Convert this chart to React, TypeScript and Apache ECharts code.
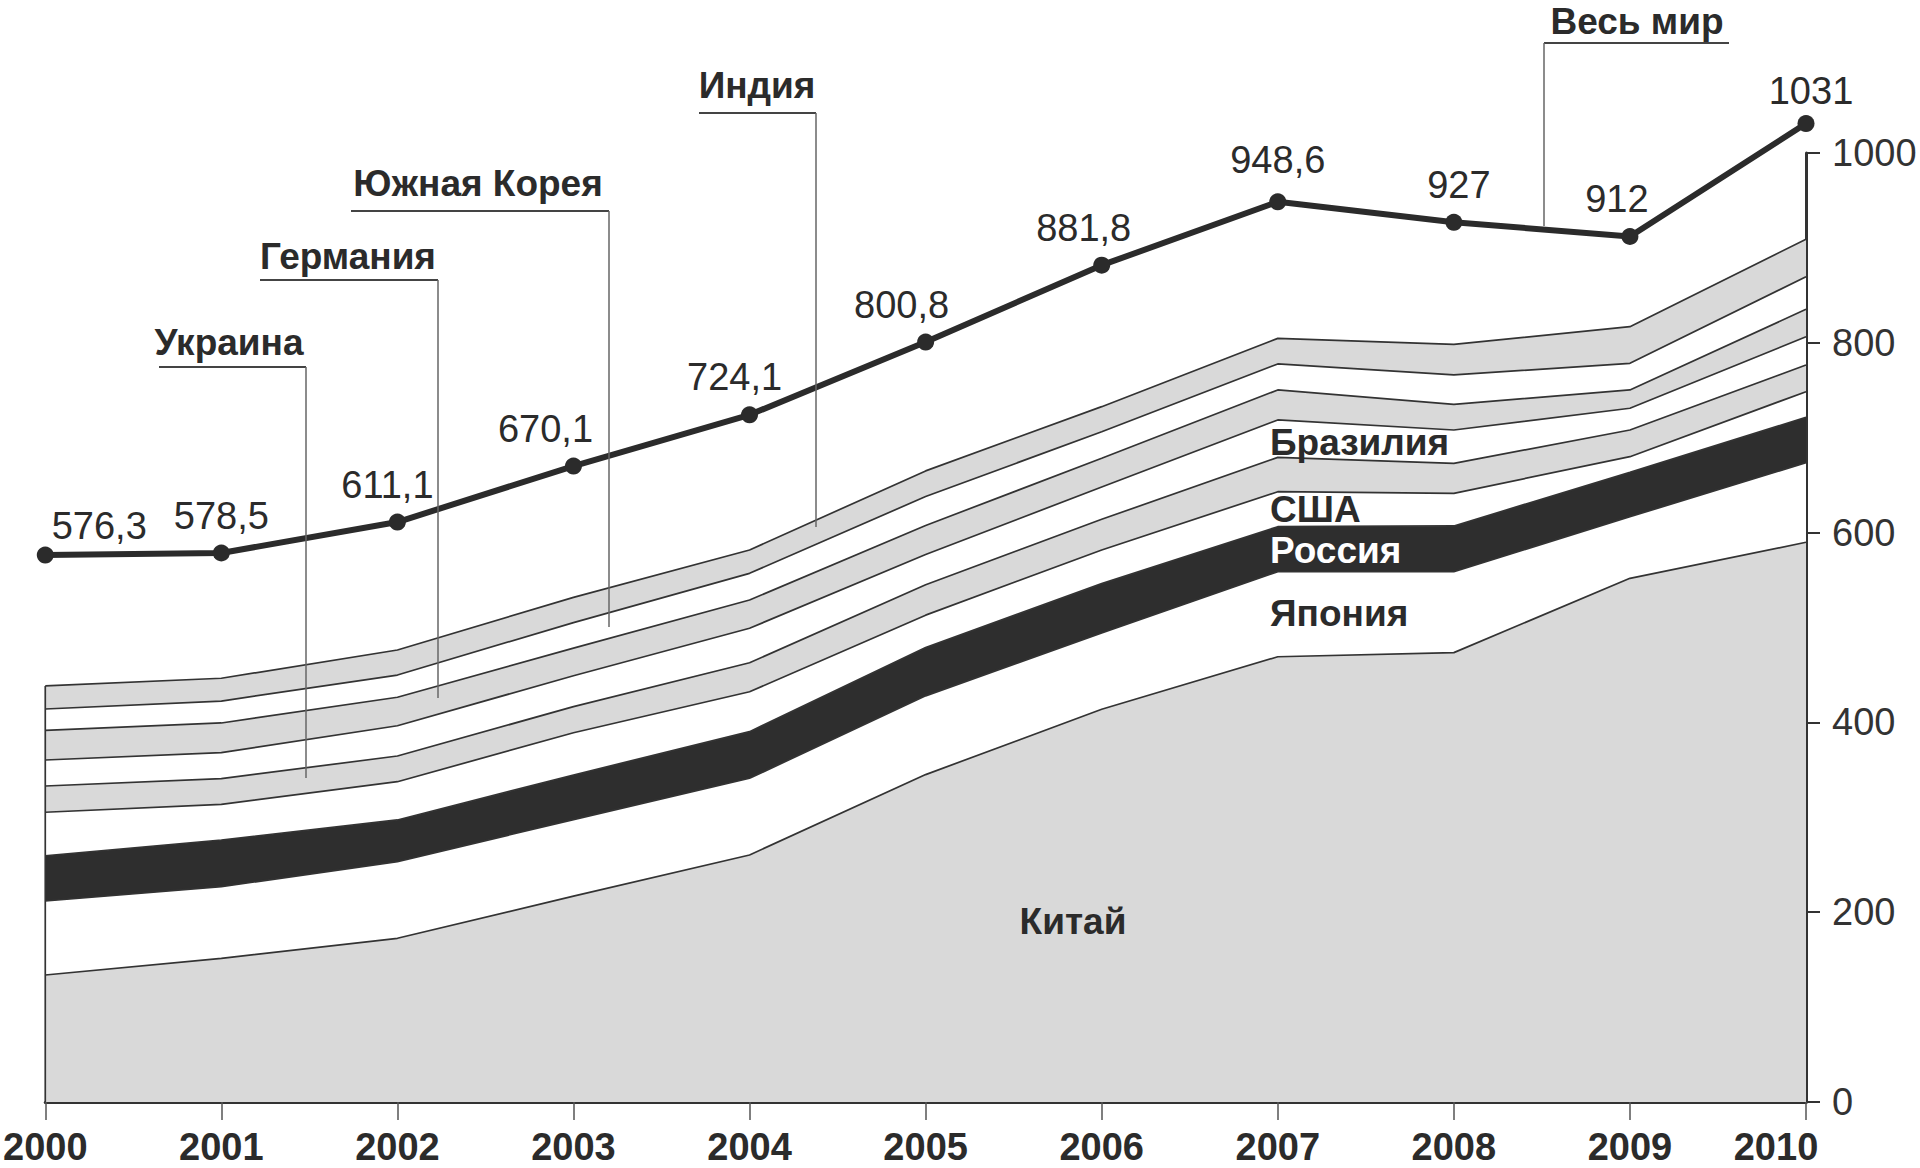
import React, { useEffect, useRef } from 'react';
import * as echarts from 'echarts';

const FONT = '"Liberation Sans", Arial, Helvetica, sans-serif';
const GRAY = '#d9d9d9';
const WHITE = '#ffffff';
const BLACK = '#2e2e2e';
const INK = '#2b2b2b';

const years = ['2000', '2001', '2002', '2003', '2004', '2005', '2006', '2007', '2008', '2009', '2010'];

// Stacked layers, bottom to top
const china = [133.8, 151.4, 172.5, 216.9, 260.3, 345.0, 413.8, 469.2, 473.5, 551.8, 589.8];
const japan = [78.0, 75.5, 80.7, 80.7, 80.8, 83.0, 80.4, 89.6, 85.3, 64.9, 83.9];
const russia = [47.7, 49.2, 44.0, 47.0, 49.1, 51.0, 52.0, 47.4, 48.2, 46.8, 47.8];
const usa = [45.8, 37.6, 40.3, 44.5, 42.1, 34.0, 35.5, 36.9, 34.4, 16.5, 27.0];
const ukraine = [27.7, 27.0, 27.1, 27.5, 30.6, 32.0, 32.3, 36.2, 31.6, 28.1, 28.1];
const brazil = [27.4, 27.4, 31.9, 32.6, 36.3, 32.0, 34.0, 39.4, 35.1, 22.9, 29.8];
const germany = [31.3, 31.3, 30.0, 29.1, 29.8, 30.5, 30.3, 31.6, 27.1, 19.3, 28.9];
const korea = [22.4, 23.1, 23.4, 26.9, 28.1, 30.5, 28.0, 27.4, 30.9, 28.1, 34.4];
const india = [24.3, 24.0, 26.4, 26.6, 24.6, 27.0, 26.4, 27.0, 32.3, 38.6, 39.4];

// World total (line)
const world = [576.3, 578.5, 611.1, 670.1, 724.1, 800.8, 881.8, 948.6, 927, 912, 1031];

// Y axis ticks
const yMin = 0;
const yMax = 1000;
const yInterval = 200;

const layers = [
  { name: 'Китай', data: china, color: GRAY },
  { name: 'Япония', data: japan, color: WHITE },
  { name: 'Россия', data: russia, color: BLACK },
  { name: 'США', data: usa, color: WHITE },
  { name: 'Украина', data: ukraine, color: GRAY },
  { name: 'Бразилия', data: brazil, color: WHITE },
  { name: 'Германия', data: germany, color: GRAY },
  { name: 'Южная Корея', data: korea, color: WHITE },
  { name: 'Индия', data: india, color: GRAY },
];

// style: label nudges for world line values (px)
const worldLabelOffsets: [number, number][] = [
  [54, 8], [0, 0], [-10, 0], [-28, 0], [-15, 0], [-24, 0], [-18, 0], [0, -4], [5, 0], [-13, 0], [5, 5],
];

// style: callout annotations (pixel layout)
const callouts = [
  { text: 'Украина', tx: 229, ty: 342, ux1: 159, ux2: 306, uy: 367, vx: 306, vy2: 778 },
  { text: 'Германия', tx: 348, ty: 256, ux1: 260, ux2: 438, uy: 280, vx: 438, vy2: 698 },
  { text: 'Южная Корея', tx: 478, ty: 183, ux1: 351, ux2: 609, uy: 211, vx: 609, vy2: 627 },
  { text: 'Индия', tx: 757, ty: 85, ux1: 699, ux2: 816, uy: 113, vx: 816, vy2: 527 },
  { text: 'Весь мир', tx: 1637, ty: 21, ux1: 1544, ux2: 1729, uy: 43, vx: 1544, vy2: 226 },
];

const inlineLabels = [
  { text: 'Бразилия', x: 1270, y: 442, fill: INK, align: 'left' },
  { text: 'США', x: 1270, y: 509, fill: INK, align: 'left' },
  { text: 'Россия', x: 1270, y: 550, fill: '#ffffff', align: 'left' },
  { text: 'Япония', x: 1270, y: 613, fill: INK, align: 'left' },
  { text: 'Китай', x: 1073, y: 921, fill: INK, align: 'center' },
];

const fmt = (v: number) => String(v).replace('.', ',');

export default function App() {
  const ref = useRef<HTMLDivElement>(null);

  useEffect(() => {
    if (!ref.current) return;
    const chart = echarts.init(ref.current, undefined, { renderer: 'svg' });

    const stackSeries = layers.map((l) => ({
      name: l.name,
      type: 'line',
      stack: 'total',
      data: l.data,
      symbol: 'none',
      lineStyle: { width: 1.7, color: '#333' },
      areaStyle: { color: l.color, opacity: 1 },
      z: 2,
    }));

    const totals0 = layers.reduce((s, l) => s + l.data[0], 0);

    const graphics: any[] = [];
    callouts.forEach((c) => {
      graphics.push({
        type: 'text',
        z: 100,
        x: c.tx,
        y: c.ty,
        style: {
          text: c.text,
          fontSize: 37,
          fontWeight: 'bold',
          fontFamily: FONT,
          fill: INK,
          align: 'center',
          verticalAlign: 'middle',
        },
      });
      graphics.push({
        type: 'line',
        z: 100,
        shape: { x1: c.ux1, y1: c.uy, x2: c.ux2, y2: c.uy },
        style: { stroke: '#444', lineWidth: 2 },
      });
      graphics.push({
        type: 'line',
        z: 100,
        shape: { x1: c.vx, y1: c.uy, x2: c.vx, y2: c.vy2 },
        style: { stroke: '#666', lineWidth: 1.5 },
      });
    });
    inlineLabels.forEach((t) => {
      graphics.push({
        type: 'text',
        z: 100,
        x: t.x,
        y: t.y,
        style: {
          text: t.text,
          fontSize: 37,
          fontWeight: 'bold',
          fontFamily: FONT,
          fill: t.fill,
          align: t.align,
          verticalAlign: 'middle',
        },
      });
    });

    chart.setOption({
      animation: false,
      backgroundColor: '#ffffff',
      grid: { left: 40, right: 114, top: 153, bottom: 66, containLabel: false },
      xAxis: {
        type: 'category',
        data: years,
        boundaryGap: false,
        axisLine: { show: true, lineStyle: { color: '#333', width: 3 } },
        axisTick: { show: true, length: 18, lineStyle: { color: '#555', width: 1.5 } },
        axisLabel: {
          interval: 0,
          fontSize: 38,
          fontWeight: 'bold',
          fontFamily: FONT,
          color: INK,
          margin: 26,
          formatter: (v: string, i: number) => (i === years.length - 1 ? `{last|${v}}` : v),
          rich: {
            last: {
              fontSize: 38,
              fontWeight: 'bold',
              fontFamily: FONT,
              color: INK,
              padding: [0, 60, 0, 0],
            },
          },
        },
        splitLine: { show: false },
      },
      yAxis: {
        type: 'value',
        position: 'right',
        min: yMin,
        max: yMax,
        interval: yInterval,
        axisLine: { show: true, lineStyle: { color: '#333', width: 3 } },
        axisTick: { show: true, length: 14, lineStyle: { color: '#333', width: 2 } },
        axisLabel: {
          fontSize: 38,
          fontFamily: FONT,
          color: '#333',
          margin: 26,
          formatter: (v: number) => String(v),
        },
        splitLine: { show: false },
      },
      graphic: graphics,
      series: [
        ...stackSeries,
        {
          type: 'custom',
          z: 3,
          data: [[0, totals0]],
          encode: { x: 0, y: 1 },
          renderItem: (_p: any, api: any) => {
            const a = api.coord([0, 0]);
            const b = api.coord([0, api.value(1)]);
            return {
              type: 'line',
              shape: { x1: a[0], y1: a[1], x2: b[0], y2: b[1] },
              style: { stroke: '#333', lineWidth: 1.7 },
            };
          },
        },
        {
          name: 'Весь мир',
          type: 'line',
          clip: false,
          z: 10,
          data: world.map((v, i) => ({
            value: v,
            label: { offset: worldLabelOffsets[i] },
          })),
          symbol: 'circle',
          symbolSize: 17,
          lineStyle: { color: INK, width: 6 },
          itemStyle: { color: INK },
          label: {
            show: true,
            position: 'top',
            distance: 10,
            fontSize: 38,
            fontFamily: FONT,
            color: INK,
            formatter: (p: any) => fmt(p.value),
          },
        },
      ],
    });

    return () => chart.dispose();
  }, []);

  return (
    <div
      ref={ref}
      style={{ position: 'fixed', left: 0, top: 0, width: 1920, height: 1168, background: '#fff' }}
    />
  );
}
